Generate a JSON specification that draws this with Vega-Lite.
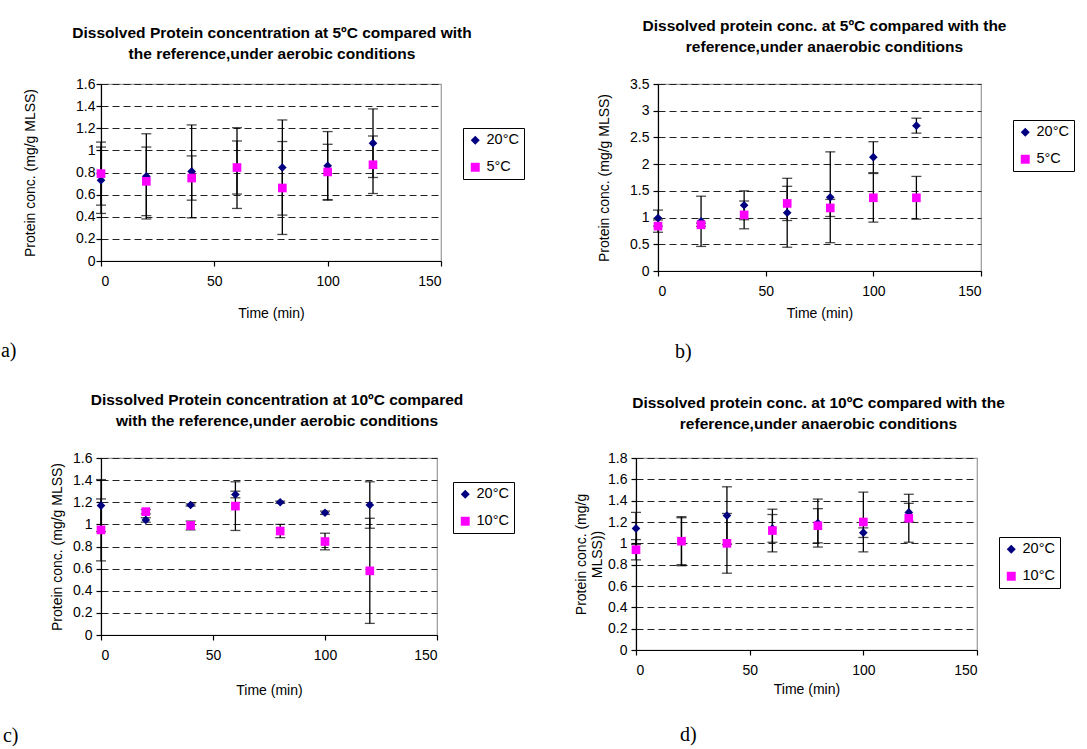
{
  "$schema": "https://vega.github.io/schema/vega-lite/v6.json",
  "background": "white",
  "padding": {"left": 0, "top": 17, "right": 0, "bottom": 0},
  "config": {
    "font": "Liberation Sans",
    "title": {"font": "Liberation Sans", "fontSize": 15.5, "fontWeight": "bold", "lineHeight": 21, "color": "black"},
    "axis": {"labelFont": "Liberation Sans", "labelFontSize": 14, "labelColor": "black", "titleFont": "Liberation Sans", "titleFontSize": 14, "titleFontWeight": "normal", "titleColor": "black", "domainColor": "black", "tickColor": "black", "domainWidth": 1.2, "tickWidth": 1.2, "tickCount": 30},
    "axisX": {"grid": false, "tickSize": 5, "labelPadding": 8},
    "axisY": {"grid": true, "gridDash": [7, 4], "gridColor": "#222", "gridWidth": 1, "tickSize": 5, "labelPadding": 4},
    "view": {"stroke": "#999", "strokeWidth": 1.2},
    "legend": {"labelFont": "Liberation Sans", "labelFontSize": 14.5, "labelColor": "black", "strokeColor": "black", "fillColor": "white", "padding": 5, "rowPadding": 12, "symbolSize": 80, "symbolStrokeWidth": 0, "labelOffset": 4}
  },
  "datasets": {
    "a": [
      {"time": 0, "series": "20°C", "mean": 0.73, "err": 0.30},
      {"time": 20, "series": "20°C", "mean": 0.765, "err": 0.385},
      {"time": 40, "series": "20°C", "mean": 0.81, "err": 0.42},
      {"time": 60, "series": "20°C", "mean": 0.84, "err": 0.365},
      {"time": 80, "series": "20°C", "mean": 0.845, "err": 0.43},
      {"time": 100, "series": "20°C", "mean": 0.86, "err": 0.31},
      {"time": 120, "series": "20°C", "mean": 1.065, "err": 0.31},
      {"time": 0, "series": "5°C", "mean": 0.79, "err": 0.285},
      {"time": 20, "series": "5°C", "mean": 0.72, "err": 0.31},
      {"time": 40, "series": "5°C", "mean": 0.75, "err": 0.20},
      {"time": 60, "series": "5°C", "mean": 0.845, "err": 0.24},
      {"time": 80, "series": "5°C", "mean": 0.66, "err": 0.42},
      {"time": 100, "series": "5°C", "mean": 0.805, "err": 0.25},
      {"time": 120, "series": "5°C", "mean": 0.87, "err": 0.26}
    ],
    "b": [
      {"time": 0, "series": "20°C", "mean": 0.99, "err": 0.15},
      {"time": 20, "series": "20°C", "mean": 0.93, "err": 0.47},
      {"time": 40, "series": "20°C", "mean": 1.23, "err": 0.27},
      {"time": 60, "series": "20°C", "mean": 1.09, "err": 0.645},
      {"time": 80, "series": "20°C", "mean": 1.38, "err": 0.85},
      {"time": 100, "series": "20°C", "mean": 2.13, "err": 0.29},
      {"time": 120, "series": "20°C", "mean": 2.72, "err": 0.14},
      {"time": 0, "series": "5°C", "mean": 0.84, "err": 0.115},
      {"time": 20, "series": "5°C", "mean": 0.865, "err": 0.03},
      {"time": 40, "series": "5°C", "mean": 1.05, "err": 0.26},
      {"time": 60, "series": "5°C", "mean": 1.265, "err": 0.32},
      {"time": 80, "series": "5°C", "mean": 1.18, "err": 0.16},
      {"time": 100, "series": "5°C", "mean": 1.37, "err": 0.455},
      {"time": 120, "series": "5°C", "mean": 1.37, "err": 0.40}
    ],
    "c": [
      {"time": 0, "series": "20°C", "mean": 1.17, "err": 0.235},
      {"time": 20, "series": "20°C", "mean": 1.04, "err": 0.02},
      {"time": 40, "series": "20°C", "mean": 1.175, "err": 0.01},
      {"time": 60, "series": "20°C", "mean": 1.27, "err": 0.03},
      {"time": 80, "series": "20°C", "mean": 1.2, "err": 0.01},
      {"time": 100, "series": "20°C", "mean": 1.105, "err": 0.015},
      {"time": 120, "series": "20°C", "mean": 1.175, "err": 0.21},
      {"time": 0, "series": "10°C", "mean": 0.95, "err": 0.28},
      {"time": 20, "series": "10°C", "mean": 1.115, "err": 0.02},
      {"time": 40, "series": "10°C", "mean": 0.99, "err": 0.04},
      {"time": 60, "series": "10°C", "mean": 1.165, "err": 0.22},
      {"time": 80, "series": "10°C", "mean": 0.94, "err": 0.06},
      {"time": 100, "series": "10°C", "mean": 0.845, "err": 0.075},
      {"time": 120, "series": "10°C", "mean": 0.58, "err": 0.475}
    ],
    "d": [
      {"time": 0, "series": "20°C", "mean": 1.14, "err": 0.15},
      {"time": 20, "series": "20°C", "mean": 1.02, "err": 0.22},
      {"time": 40, "series": "20°C", "mean": 1.26, "err": 0.27},
      {"time": 60, "series": "20°C", "mean": 1.14, "err": 0.13},
      {"time": 80, "series": "20°C", "mean": 1.19, "err": 0.225},
      {"time": 100, "series": "20°C", "mean": 1.10, "err": 0.045},
      {"time": 120, "series": "20°C", "mean": 1.29, "err": 0.085},
      {"time": 0, "series": "10°C", "mean": 0.94, "err": 0.095},
      {"time": 20, "series": "10°C", "mean": 1.02, "err": 0.23},
      {"time": 40, "series": "10°C", "mean": 1.0, "err": 0.28},
      {"time": 60, "series": "10°C", "mean": 1.12, "err": 0.2},
      {"time": 80, "series": "10°C", "mean": 1.165, "err": 0.16},
      {"time": 100, "series": "10°C", "mean": 1.2, "err": 0.28},
      {"time": 120, "series": "10°C", "mean": 1.235, "err": 0.225}
    ]
  },
  "resolve": {"scale": {"color": "independent", "shape": "independent"}, "legend": {"color": "independent", "shape": "independent"}},
  "spacing": 29,
  "vconcat": [
    {
      "resolve": {"scale": {"color": "independent", "shape": "independent"}, "legend": {"color": "independent", "shape": "independent"}},
      "spacing": 71,
      "hconcat": [
        {
          "title": {"text": "a)", "orient": "bottom", "anchor": "start", "font": "Liberation Serif", "fontSize": 20, "fontWeight": "normal", "offset": 20, "dx": -22},
          "vconcat": [
            {
              "width": 340, "height": 177,
              "title": {"text": ["Dissolved Protein concentration at 5ºC compared with", "the reference,under aerobic conditions"], "offset": 15, "dx": 1},
              "data": {"name": "a"},
              "layer": [
                {
                  "mark": {"type": "errorbar", "ticks": {"size": 10}, "color": "black", "thickness": 1.3},
                  "encoding": {
                    "x": {"field": "time", "type": "quantitative", "scale": {"domain": [0, 150], "nice": false}, "axis": {"values": [0, 50, 100, 150], "title": "Time (min)", "titlePadding": 18}},
                    "y": {"field": "mean", "type": "quantitative", "scale": {"domain": [0, 1.6], "nice": false}, "axis": {"values": [0, 0.2, 0.4, 0.6, 0.8, 1, 1.2, 1.4, 1.6], "format": "~g", "title": "Protein conc. (mg/g MLSS)", "titlePadding": 38, "labelPadding": 1}},
                    "yError": {"field": "err"}
                  }
                },
                {
                  "mark": {"type": "point", "filled": true, "opacity": 1, "size": 75},
                  "encoding": {
                    "x": {"field": "time", "type": "quantitative"},
                    "y": {"field": "mean", "type": "quantitative"},
                    "color": {"field": "series", "type": "nominal", "scale": {"domain": ["20°C", "5°C"], "range": ["#000080", "#FF00FF"]}, "legend": {"title": null, "orient": "none", "legendX": 362, "legendY": 44}},
                    "shape": {"field": "series", "type": "nominal", "scale": {"domain": ["20°C", "5°C"], "range": ["diamond", "square"]}, "legend": {"title": null, "orient": "none", "legendX": 362, "legendY": 44}}
                  }
                }
              ]
            }
          ]
        },
        {
          "title": {"text": "b)", "orient": "bottom", "anchor": "start", "font": "Liberation Serif", "fontSize": 20, "fontWeight": "normal", "offset": 21, "dx": 78},
          "vconcat": [
            {
              "width": 323, "height": 187,
              "title": {"text": ["Dissolved protein conc. at 5ºC compared with the", "reference,under anaerobic conditions"], "offset": 22, "dx": 5},
              "data": {"name": "b"},
              "layer": [
                {
                  "mark": {"type": "errorbar", "ticks": {"size": 10}, "color": "black", "thickness": 1.3},
                  "encoding": {
                    "x": {"field": "time", "type": "quantitative", "scale": {"domain": [0, 150], "nice": false}, "axis": {"values": [0, 50, 100, 150], "title": "Time (min)", "titlePadding": 8}},
                    "y": {"field": "mean", "type": "quantitative", "scale": {"domain": [0, 3.5], "nice": false}, "axis": {"values": [0, 0.5, 1, 1.5, 2, 2.5, 3, 3.5], "format": "~g", "title": "Protein conc. (mg/g MLSS)", "titlePadding": 18, "labelPadding": 4}},
                    "yError": {"field": "err"}
                  }
                },
                {
                  "mark": {"type": "point", "filled": true, "opacity": 1, "size": 75},
                  "encoding": {
                    "x": {"field": "time", "type": "quantitative"},
                    "y": {"field": "mean", "type": "quantitative"},
                    "color": {"field": "series", "type": "nominal", "scale": {"domain": ["20°C", "5°C"], "range": ["#000080", "#FF00FF"]}, "legend": {"title": null, "orient": "none", "legendX": 355, "legendY": 36}},
                    "shape": {"field": "series", "type": "nominal", "scale": {"domain": ["20°C", "5°C"], "range": ["diamond", "square"]}, "legend": {"title": null, "orient": "none", "legendX": 355, "legendY": 36}}
                  }
                }
              ]
            }
          ]
        }
      ]
    },
    {
      "resolve": {"scale": {"color": "independent", "shape": "independent"}, "legend": {"color": "independent", "shape": "independent"}},
      "spacing": 58,
      "hconcat": [
        {
          "title": {"text": "c)", "orient": "bottom", "anchor": "start", "font": "Liberation Serif", "fontSize": 20, "fontWeight": "normal", "offset": 28, "dx": -47},
          "vconcat": [
            {
              "width": 336, "height": 177,
              "title": {"text": ["Dissolved Protein concentration at 10ºC compared", "with the reference,under aerobic conditions"], "offset": 22, "dx": 8},
              "data": {"name": "c"},
              "layer": [
                {
                  "mark": {"type": "errorbar", "ticks": {"size": 10}, "color": "black", "thickness": 1.3},
                  "encoding": {
                    "x": {"field": "time", "type": "quantitative", "scale": {"domain": [0, 150], "nice": false}, "axis": {"values": [0, 50, 100, 150], "title": "Time (min)", "titlePadding": 21}},
                    "y": {"field": "mean", "type": "quantitative", "scale": {"domain": [0, 1.6], "nice": false}, "axis": {"values": [0, 0.2, 0.4, 0.6, 0.8, 1, 1.2, 1.4, 1.6], "format": "~g", "title": "Protein conc. (mg/g MLSS)", "titlePadding": 8, "labelPadding": 4}},
                    "yError": {"field": "err"}
                  }
                },
                {
                  "mark": {"type": "point", "filled": true, "opacity": 1, "size": 75},
                  "encoding": {
                    "x": {"field": "time", "type": "quantitative"},
                    "y": {"field": "mean", "type": "quantitative"},
                    "color": {"field": "series", "type": "nominal", "scale": {"domain": ["20°C", "10°C"], "range": ["#000080", "#FF00FF"]}, "legend": {"title": null, "orient": "none", "legendX": 352, "legendY": 24}},
                    "shape": {"field": "series", "type": "nominal", "scale": {"domain": ["20°C", "10°C"], "range": ["diamond", "square"]}, "legend": {"title": null, "orient": "none", "legendX": 352, "legendY": 24}}
                  }
                }
              ]
            }
          ]
        },
        {
          "title": {"text": "d)", "orient": "bottom", "anchor": "start", "font": "Liberation Serif", "fontSize": 20, "fontWeight": "normal", "offset": 28, "dx": 106},
          "vconcat": [
            {
              "width": 341, "height": 192,
              "title": {"text": ["Dissolved protein conc. at 10ºC compared with the", "reference,under anaerobic conditions"], "offset": 19, "dx": 12},
              "data": {"name": "d"},
              "layer": [
                {
                  "mark": {"type": "errorbar", "ticks": {"size": 10}, "color": "black", "thickness": 1.3},
                  "encoding": {
                    "x": {"field": "time", "type": "quantitative", "scale": {"domain": [0, 150], "nice": false}, "axis": {"values": [0, 50, 100, 150], "title": "Time (min)", "titlePadding": 5}},
                    "y": {"field": "mean", "type": "quantitative", "scale": {"domain": [0, 1.8], "nice": false}, "axis": {"values": [0, 0.2, 0.4, 0.6, 0.8, 1, 1.2, 1.4, 1.6, 1.8], "format": "~g", "title": ["Protein conc. (mg/g", "MLSS))"], "titlePadding": 3, "labelPadding": 4}},
                    "yError": {"field": "err"}
                  }
                },
                {
                  "mark": {"type": "point", "filled": true, "opacity": 1, "size": 75},
                  "encoding": {
                    "x": {"field": "time", "type": "quantitative"},
                    "y": {"field": "mean", "type": "quantitative"},
                    "color": {"field": "series", "type": "nominal", "scale": {"domain": ["20°C", "10°C"], "range": ["#000080", "#FF00FF"]}, "legend": {"title": null, "orient": "none", "legendX": 363, "legendY": 79}},
                    "shape": {"field": "series", "type": "nominal", "scale": {"domain": ["20°C", "10°C"], "range": ["diamond", "square"]}, "legend": {"title": null, "orient": "none", "legendX": 363, "legendY": 79}}
                  }
                }
              ]
            }
          ]
        }
      ]
    }
  ]
}
